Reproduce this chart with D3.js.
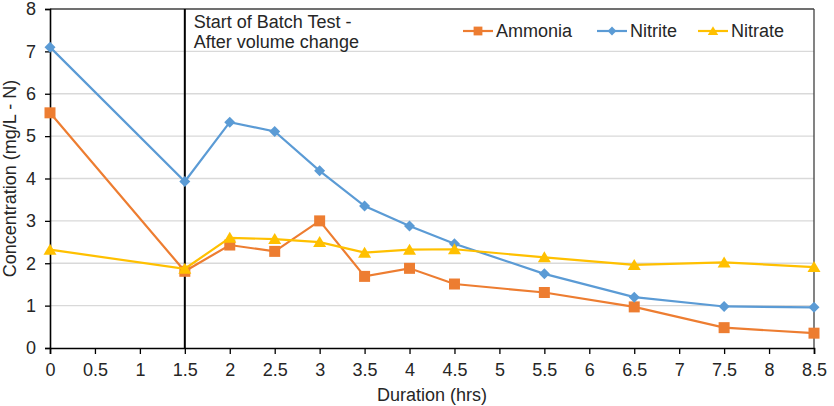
<!DOCTYPE html>
<html>
<head>
<meta charset="utf-8">
<script src="https://cdn.jsdelivr.net/npm/d3@7"></script>
<style>
  body { margin: 0; background: #fff; }
  text { font-family: "Liberation Sans", Arial, sans-serif; fill: #262626; }
</style>
</head>
<body>
<div id="chart"></div>
<script>
var hours = [0, 1.5, 2, 2.5, 3, 3.5, 4, 4.5, 5.5, 6.5, 7.5, 8.5];
var ammonia = [5.55, 1.81, 2.43, 2.28, 3.0, 1.69, 1.88, 1.51, 1.31, 0.97, 0.48, 0.35];
var nitrite = [7.1, 3.93, 5.33, 5.11, 4.18, 3.35, 2.88, 2.46, 1.75, 1.2, 0.98, 0.96];
var nitrate = [2.32, 1.87, 2.6, 2.57, 2.5, 2.25, 2.32, 2.33, 2.14, 1.96, 2.02, 1.91];
var xTicks = [0, 0.5, 1, 1.5, 2, 2.5, 3, 3.5, 4, 4.5, 5, 5.5, 6, 6.5, 7, 7.5, 8, 8.5];
var yTicks = [0, 1, 2, 3, 4, 5, 6, 7, 8];

var series = [
  { name: "Ammonia", values: ammonia, color: "#ED7D31", shape: "square" },
  { name: "Nitrite", values: nitrite, color: "#5B9BD5", shape: "diamond" },
  { name: "Nitrate", values: nitrate, color: "#FFC000", shape: "triangle" }
];

var W = 834, H = 406;
var m = { left: 50, right: 20, top: 9, bottom: 58 };
var iw = W - m.left - m.right, ih = H - m.top - m.bottom;
var fs = "18px";

var svg = d3.select("#chart").append("svg")
  .attr("width", W).attr("height", H);
var g = svg.append("g").attr("transform", "translate(" + m.left + "," + m.top + ")");

var x = d3.scaleLinear().domain([0, 8.5]).range([0, iw]);
var y = d3.scaleLinear().domain([0, 8]).range([ih, 0]);

// gridlines
g.selectAll("line.grid").data(yTicks.slice(1, -1)).enter().append("line")
  .attr("class", "grid")
  .attr("x1", 0).attr("x2", iw)
  .attr("y1", function(d) { return y(d); })
  .attr("y2", function(d) { return y(d); })
  .attr("stroke", "#d9d9d9").attr("stroke-width", 1.3);

// frame top and right
g.append("line").attr("x1", 0).attr("x2", iw).attr("y1", 0).attr("y2", 0)
  .attr("stroke", "#404040").attr("stroke-width", 1.3);
g.append("line").attr("x1", iw).attr("x2", iw).attr("y1", 0).attr("y2", ih)
  .attr("stroke", "#404040").attr("stroke-width", 1.3);

// axes
var xAxis = g.append("g").attr("transform", "translate(0," + ih + ")")
  .call(d3.axisBottom(x).tickValues(xTicks).tickSizeOuter(0).tickSize(6).tickPadding(9)
    .tickFormat(function(d) { return String(d); }));
var yAxis = g.append("g")
  .call(d3.axisLeft(y).tickValues(yTicks).tickSizeOuter(0).tickSize(5).tickPadding(9));
[xAxis, yAxis].forEach(function(a) {
  a.select(".domain").attr("stroke", "#000").attr("stroke-width", 1.6);
  a.selectAll(".tick line").attr("stroke", "#000").attr("stroke-width", 1.3);
  a.selectAll(".tick text").style("font-size", fs)
    .style("font-family", "Liberation Sans, Arial, sans-serif").attr("fill", "#262626");
});

// batch test marker
g.append("line")
  .attr("x1", x(1.5)).attr("x2", x(1.5)).attr("y1", 0).attr("y2", ih)
  .attr("stroke", "#000").attr("stroke-width", 2);
g.append("text").attr("x", x(1.5) + 9).attr("y", 19)
  .style("font-size", fs).text("Start of Batch Test -");
g.append("text").attr("x", x(1.5) + 9).attr("y", 39)
  .style("font-size", fs).text("After volume change");

// lines + markers
var line = d3.line()
  .x(function(d) { return x(d[0]); })
  .y(function(d) { return y(d[1]); });

function marker(sel, shape, color) {
  var p;
  if (shape == "square") p = "M-5.5,-5.5H5.5V5.5H-5.5Z";
  else if (shape == "diamond") p = "M0,-5.5L5.5,0L0,5.5L-5.5,0Z";
  else p = "M0,-6L6.5,5L-6.5,5Z";
  sel.append("path").attr("d", p).attr("fill", color);
}

series.forEach(function(s) {
  var pts = hours.map(function(h, i) { return [h, s.values[i]]; });
  g.append("path").datum(pts)
    .attr("d", line).attr("fill", "none")
    .attr("stroke", s.color).attr("stroke-width", 2.2);
  var mk = g.selectAll("g.m-" + s.shape).data(pts).enter().append("g")
    .attr("class", "m-" + s.shape)
    .attr("transform", function(d) { return "translate(" + x(d[0]) + "," + y(d[1]) + ")"; });
  mk.each(function() { marker(d3.select(this), s.shape, s.color); });
});

// legend
var legendX = [463, 597, 698];
series.forEach(function(s, i) {
  var lg = svg.append("g").attr("transform", "translate(" + legendX[i] + ",31)");
  lg.append("line").attr("x1", 0).attr("x2", 30).attr("y1", 0).attr("y2", 0)
    .attr("stroke", s.color).attr("stroke-width", 2.2);
  var mg = lg.append("g").attr("transform", "translate(15,0) scale(0.8)");
  marker(mg, s.shape, s.color);
  lg.append("text").attr("x", 33).attr("y", 0).attr("dy", "0.35em")
    .style("font-size", fs).text(s.name);
});

// axis titles
svg.append("text").attr("x", m.left + x(4.25)).attr("y", 401)
  .attr("text-anchor", "middle").style("font-size", fs).text("Duration (hrs)");
svg.append("text")
  .attr("transform", "translate(16," + (m.top + ih / 2) + ") rotate(-90)")
  .attr("text-anchor", "middle")
  .style("font-size", fs).text("Concentration (mg/L - N)");
</script>
</body>
</html>
